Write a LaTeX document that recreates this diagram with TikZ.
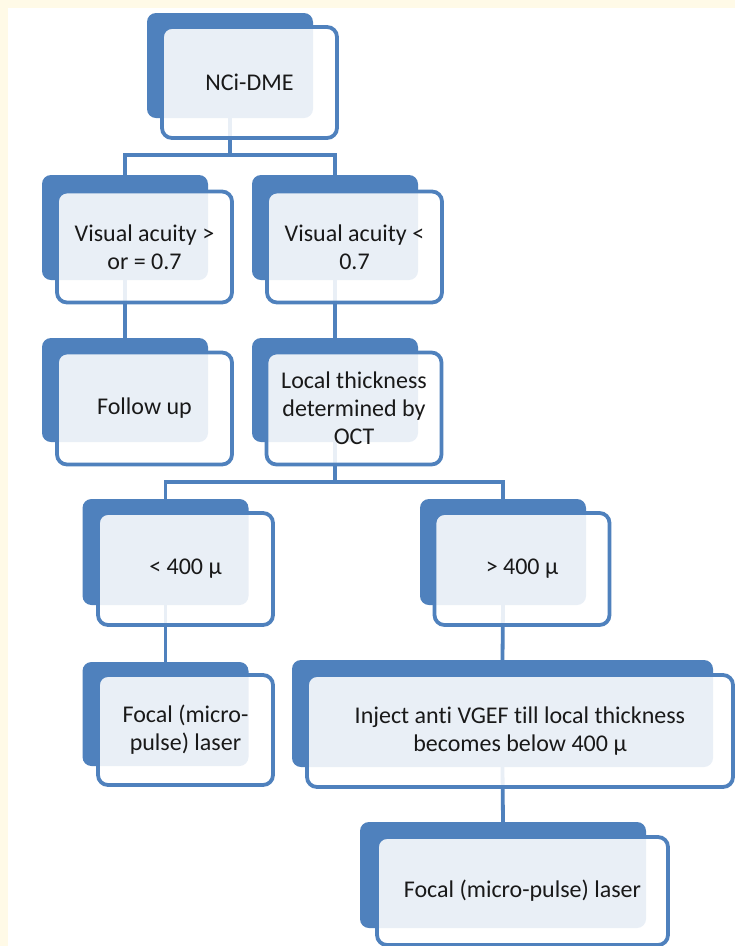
\documentclass[tikz,border=0pt]{standalone}
\usepackage{fontspec}
\setmainfont[Ligatures=NoCommon, RawFeature={-calt;-liga}]{Carlito}
\definecolor{boxblue}{RGB}{79, 129, 189}
\definecolor{pagecream}{RGB}{255, 250, 231}
\usetikzlibrary{positioning}

\begin{document}
\begin{tikzpicture}[x=1pt, y=-1pt,
  backbox/.style={fill=boxblue, rounded corners=9pt, minimum width=166pt, minimum height=105pt, inner sep=0pt},
  frontbox/.style={draw=boxblue, line width=3.8pt, fill=white, fill opacity=0.88, text opacity=1, rounded corners=10pt, minimum width=175pt, minimum height=111pt, inner sep=2pt, align=center, text=black!90, font=\fontsize{24}{28}\selectfont},
  link/.style={draw=boxblue, line width=3.8pt}
]
  % page
  \useasboundingbox (0,0) rectangle (735,946);
  \fill[white] (0,0) rectangle (735,946);
  \fill[pagecream] (0,0) rectangle (735,8);
  \fill[pagecream] (0,0) rectangle (8,946);

  % back boxes
  \node[backbox] (nciB) at (230,65.5) {};
  \node[backbox] (geB) at (125,227.5) {};
  \node[backbox] (ltB) at (335,227.5) {};
  \node[backbox, minimum height=104pt] (fuB) at (125,390) {};
  \node[backbox, minimum height=104pt] (octB) at (335,390) {};
  \node[backbox, minimum height=106pt] (lowB) at (165.5,552) {};
  \node[backbox, minimum height=106pt] (highB) at (503,552) {};
  \node[backbox, minimum height=104pt] (laserB) at (165.5,714) {};
  \node[backbox, minimum width=421pt, minimum height=107pt] (injB) at (502.5,713.5) {};
  \node[backbox, minimum width=286pt, minimum height=106pt] (focalB) at (503,875) {};

  % connectors
  \draw[link] (nciB.south) -- ++(0,37) -| (geB.north);
  \draw[link] (nciB.south) -- ++(0,37) -| (ltB.north);
  \draw[link] (geB.south) -- (fuB.north);
  \draw[link] (ltB.south) -- (octB.north);
  \draw[link] (octB.south) -- ++(0,40) -| (lowB.north);
  \draw[link] (octB.south) -- ++(0,40) -| (highB.north);
  \draw[link] (lowB.south) -- (laserB.north);
  \draw[link] (highB.south) -- (injB.north);
  \draw[link] (injB.south) -- (focalB.north);

  % front boxes
  \node[frontbox] (nci) at (249.5,82.5) {NCi-DME};
  \node[frontbox] (ge) at (144.5,247) {Visual acuity >\\or = 0.7};
  \node[frontbox] (lt) at (354.5,247) {Visual acuity <\\0.7};
  \node[frontbox, minimum height=112pt] (fu) at (144.5,408.5) {Follow up};
  \node[frontbox, minimum height=112pt] (oct) at (354,408.5) {Local thickness\\determined by\\OCT};
  \node[frontbox, minimum height=112pt] (low) at (185.5,569) {< 400 μ};
  \node[frontbox, minimum height=112pt] (high) at (522,569) {> 400 μ};
  \node[frontbox, minimum height=110pt] (laser) at (185.5,730) {Focal (micro-\\pulse) laser};
  \node[frontbox, minimum width=426pt, minimum height=112pt] (inj) at (520,731) {Inject anti VGEF till local thickness\\becomes below 400 μ};
  \node[frontbox, minimum width=291pt, minimum height=108pt] (focal) at (522.5,891) {Focal (micro-pulse) laser};
\end{tikzpicture}
\end{document}
